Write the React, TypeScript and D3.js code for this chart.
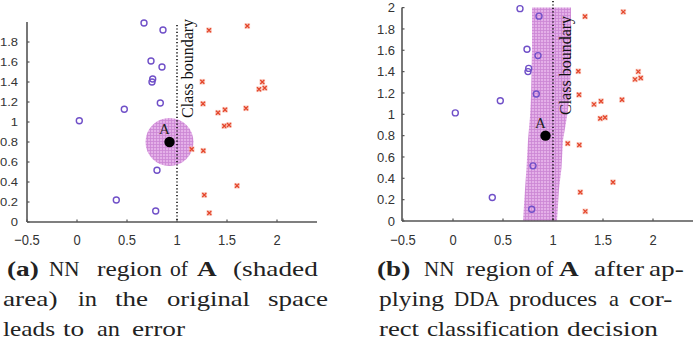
import React, { useLayoutEffect, useRef, useState } from "react";
import * as d3 from "d3";

// ---- data ----
const circleClassX = [0.67, 0.86, 0.74, 0.85, 0.757, 0.75, 0.833, 0.473, 0.023, 0.8, 0.393, 0.787];
const circleClassY = [1.99, 1.92, 1.61, 1.55, 1.43, 1.4, 1.19, 1.127, 1.013, 0.517, 0.22, 0.11];
const crossClassX = [1.32, 1.703, 1.253, 1.853, 1.82, 1.877, 1.26, 1.41, 1.48, 1.69, 1.473, 1.52, 1.147, 1.263, 1.6, 1.273, 1.323];
const crossClassY = [1.917, 1.96, 1.403, 1.4, 1.327, 1.34, 1.183, 1.093, 1.123, 1.137, 0.96, 0.97, 0.727, 0.713, 0.363, 0.27, 0.09];
const pointAX = 0.925;
const pointAY = 0.8;
const nnRadius = 0.24;
const boundaryX = 1.0;
const bandY = [2.0, 1.6, 1.17, 0.98, 0.76, 0.5, 0.3, 0.0];
const bandLeft = [0.79, 0.79, 0.78, 0.77, 0.75, 0.735, 0.72, 0.7];
const bandRight = [1.18, 1.18, 1.17, 1.14, 1.1, 1.085, 1.06, 1.04];
const xTickValues = [-0.5, 0, 0.5, 1, 1.5, 2];
const yTickValuesLeft = [0, 0.2, 0.4, 0.6, 0.8, 1, 1.2, 1.4, 1.6, 1.8];
const yTickValuesRight = [0, 0.2, 0.4, 0.6, 0.8, 1, 1.2, 1.4, 1.6, 1.8, 2];
const boundaryLabel = "Class boundary";
const pointLabel = "A";

// caption words: [text, bold]
const captionA: [string, boolean][][] = [
  [["(a)", true], ["NN", false], ["region", false], ["of", false], ["A", true], ["(shaded", false]],
  [["area)", false], ["in", false], ["the", false], ["original", false], ["space", false]],
  [["leads", false], ["to", false], ["an", false], ["error", false]],
];
const captionB: [string, boolean][][] = [
  [["(b)", true], ["NN", false], ["region", false], ["of", false], ["A", true], ["after", false], ["ap-", false]],
  [["plying", false], ["DDA", false], ["produces", false], ["a", false], ["cor-", false]],
  [["rect", false], ["classification", false], ["decision", false]],
];

// ---- layout (positions, not data) ----
const captionALayout = [
  [[7, 43], [49, 76], [97, 162], [170, 188], [197, 220], [233, 328]],
  [[3, 60], [78, 97], [115, 148], [167, 250], [268, 328]],
  [[3, 55], [63, 85], [97, 120], [132, 187]],
];
const captionBLayout = [
  [[377, 419], [424, 451], [466, 531], [536, 552], [559, 586], [594, 644], [649, 697]],
  [[379, 444], [454, 499], [509, 597], [609, 619], [629, 697]],
  [[379, 419], [427, 559], [567, 667]],
];
const captionBaselines = [276, 306, 336];
const CAP_SX = 1.15;

const fmt = (v: number) => (v < 0 ? "\u2212" : "") + String(Math.abs(v));

const SERIF = "'Liberation Serif', 'Times New Roman', serif";
const SANS = "'Liberation Sans', Arial, sans-serif";
const AXIS = "#555";
const PURPLE = "#7050c8";
const RED = "#e4452a";

type PanelProps = {
  x0: number; x1: number; xd0: number;
  yTop: number; yBottom: number;
  yTicks: number[];
  yLabelRight: number;
  yLabelScale: number;
  region: "circle" | "band";
  boundaryTop: number;
  labelX: number; labelY: number;
  patternId: string;
};

function Panel(p: PanelProps) {
  const x = d3.scaleLinear().domain([p.xd0, 2.4]).range([p.x0, p.x1]);
  const y = d3.scaleLinear().domain([0, 2]).range([p.yBottom, p.yTop]);
  const circles = circleClassX.map((v, i) => [v, circleClassY[i]]);
  const crosses = crossClassX.map((v, i) => [v, crossClassY[i]]);

  let regionEl: React.ReactNode = null;
  if (p.region === "circle") {
    regionEl = (
      <ellipse
        cx={x(pointAX)} cy={y(pointAY)}
        rx={x(nnRadius) - x(0)} ry={y(0) - y(nnRadius)}
        fill={`url(#${p.patternId})`}
      />
    );
  } else {
    const pts: [number, number][] = [];
    bandY.forEach((v, i) => pts.push([x(bandLeft[i]), y(v)]));
    for (let i = bandY.length - 1; i >= 0; i--) pts.push([x(bandRight[i]), y(bandY[i])]);
    const line = d3.line().curve(d3.curveLinearClosed);
    regionEl = <path d={line(pts) || ""} fill={`url(#${p.patternId})`} />;
  }

  const ax = x(pointAX), ay = y(pointAY);
  const baseY = y(0);
  return (
    <g>
      <defs>
        <pattern id={p.patternId} width={3} height={3} patternUnits="userSpaceOnUse">
          <rect width={3} height={3} fill="#e4b0e8" />
          <rect width={3} height={0.8} fill="#cc86d4" />
          <rect width={0.8} height={3} fill="#cc86d4" />
        </pattern>
      </defs>
      {regionEl}
      {/* axes */}
      <line x1={p.x0} x2={p.x1} y1={baseY} y2={baseY} stroke={AXIS} strokeWidth={1.6} />
      <line x1={p.x0} x2={p.x0} y1={baseY} y2={p.yTop} stroke={AXIS} strokeWidth={1.6} />
      {xTickValues.map((v) => (
        <g key={"xt" + v}>
          <line x1={x(v)} x2={x(v)} y1={baseY} y2={baseY - 2.5} stroke={AXIS} strokeWidth={1.2} />
          <text
            transform={`translate(${x(v)},245) scale(1,1.15)`}
            textAnchor="middle" fontFamily={SANS} fontSize={13} fill="#333"
          >{fmt(v)}</text>
        </g>
      ))}
      {p.yTicks.map((v) => (
        <g key={"yt" + v}>
          <line x1={p.x0} x2={p.x0 + 2.5} y1={y(v)} y2={y(v)} stroke={AXIS} strokeWidth={1.2} />
          <text
            transform={`translate(${p.yLabelRight},${y(v)}) scale(1,${p.yLabelScale})`}
            dy="0.36em" textAnchor="end" fontFamily={SANS} fontSize={13} fill="#333"
          >{fmt(v)}</text>
        </g>
      ))}
      {/* class boundary */}
      <line x1={x(boundaryX)} x2={x(boundaryX)} y1={p.boundaryTop} y2={baseY}
        stroke="#111" strokeWidth={1.6} strokeDasharray="1.2 2.2" />
      <text transform={`translate(${p.labelX},${p.labelY}) rotate(-90)`}
        fontFamily={SERIF} fontSize={16} fill="#111">{boundaryLabel}</text>
      {/* points */}
      {circles.map((d, i) => (
        <circle key={"c" + i} cx={x(d[0])} cy={y(d[1])} r={3} fill="none" stroke={PURPLE} strokeWidth={1.4} />
      ))}
      {crosses.map((d, i) => {
        const cx = x(d[0]), cy = y(d[1]);
        return (
          <g key={"x" + i}>
            <rect x={cx - 2.8} y={cy - 2.8} width={5.6} height={5.6} fill="#f7b8aa" opacity={0.7} />
            <path d={`M${cx - 2},${cy - 2}L${cx + 2},${cy + 2}M${cx - 2},${cy + 2}L${cx + 2},${cy - 2}`}
              stroke={RED} strokeWidth={1.3} />
          </g>
        );
      })}
      <circle cx={ax} cy={ay} r={5.2} fill="#000" />
      <text x={ax - 5} y={ay - 8} textAnchor="middle" fontFamily={SERIF} fontSize={15} fill="#222">{pointLabel}</text>
    </g>
  );
}

function Caption({ words, layout }: { words: [string, boolean][][]; layout: number[][][] }) {
  const flat: { w: string; bold: boolean; a: number; b: number; li: number }[] = [];
  words.forEach((line, li) => line.forEach(([w, bold], wi) => {
    const [a, b] = layout[li][wi];
    flat.push({ w, bold, a, b, li });
  }));
  const refs = useRef<(SVGTextElement | null)[]>([]);
  const [scales, setScales] = useState<number[]>(flat.map(() => CAP_SX));
  useLayoutEffect(() => {
    const s = flat.map((f, i) => {
      const el = refs.current[i];
      if (!el) return CAP_SX;
      const n = el.getComputedTextLength();
      if (!n) return CAP_SX;
      return Math.max(1.0, Math.min(1.3, (f.b - f.a) / n));
    });
    setScales(s);
  }, []);
  return (
    <g>
      {flat.map((f, i) => (
        <g key={i} transform={`translate(${f.a},${captionBaselines[f.li]}) scale(${scales[i]},1)`}>
          <text ref={(el) => { refs.current[i] = el; }}
            fontFamily={SERIF} fontSize={21} fontWeight={f.bold ? "bold" : "normal"} fill="#222">{f.w}</text>
        </g>
      ))}
    </g>
  );
}

export default function App() {
  return (
    <div style={{ position: "fixed", left: 0, top: 0, width: 698, height: 349, background: "#fff" }}>
      <svg width={698} height={349} viewBox="0 0 698 349" style={{ display: "block" }}>
        <rect width={698} height={349} fill="#fff" />
        <Panel x0={27} x1={317} xd0={-0.5} yTop={22} yBottom={222} yTicks={yTickValuesLeft}
          yLabelRight={18} yLabelScale={0.85} region="circle" boundaryTop={25}
          labelX={193} labelY={118} patternId="gridA" />
        <Panel x0={402} x1={693} xd0={-0.51} yTop={7.6} yBottom={221} yTicks={yTickValuesRight}
          yLabelRight={395} yLabelScale={1} region="band" boundaryTop={1}
          labelX={571} labelY={115} patternId="gridB" />
        <Caption words={captionA} layout={captionALayout} />
        <Caption words={captionB} layout={captionBLayout} />
      </svg>
    </div>
  );
}
